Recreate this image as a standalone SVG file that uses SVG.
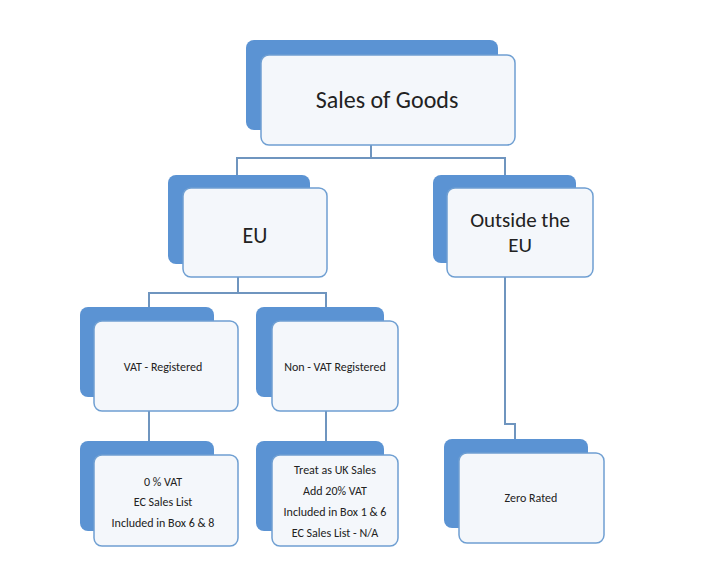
<svg xmlns="http://www.w3.org/2000/svg" width="720" height="567" viewBox="0 0 720 567">
<style>
.b{fill:#5b93d3;stroke:none}
.f{fill:#f4f7fb;stroke:#6f9fd2;stroke-width:1.5}
.c{fill:none;stroke:#6f95bf;stroke-width:2}
text{font-family:Calibri,"Liberation Sans","DejaVu Sans",sans-serif;fill:#222;text-anchor:middle}
.s{font-size:12px}
</style>
<rect width="720" height="567" fill="#fff"/>
<g id="connectors">
<path class="c" d="M371 145V158M237 175V158H505V175"/>
<path class="c" d="M238 277V293M149 307V293H326V307"/>
<path class="c" d="M149 411V441M326 411V441"/>
<path class="c" d="M505 277V424H515V439"/>
</g>
<g id="n-sales"><rect class="b" x="246" y="40" width="252" height="90" rx="8"/><rect class="f" x="261" y="55" width="254" height="90" rx="8"/><text x="387" y="108" font-size="24">Sales of Goods</text></g>
<g id="n-eu"><rect class="b" x="168" y="175" width="142" height="89" rx="8"/><rect class="f" x="183" y="188" width="144" height="89" rx="8"/><text x="255" y="243" font-size="22">EU</text></g>
<g id="n-out"><rect class="b" x="433" y="175" width="143" height="88" rx="8"/><rect class="f" x="447" y="188" width="146" height="89" rx="8"/><text x="520" y="227" font-size="21">Outside the</text><text x="520" y="252" font-size="21">EU</text></g>
<g id="n-vat"><rect class="b" x="80" y="307" width="134" height="90" rx="8"/><rect class="f" x="94" y="321" width="144" height="90" rx="8"/><text class="s" x="163" y="371">VAT - Registered</text></g>
<g id="n-nonvat"><rect class="b" x="256" y="307" width="128" height="90" rx="8"/><rect class="f" x="272" y="321" width="126" height="90" rx="8"/><text class="s" x="335" y="371">Non - VAT Registered</text></g>
<g id="n-zero-vat"><rect class="b" x="80" y="441" width="134" height="90" rx="8"/><rect class="f" x="94" y="455" width="144" height="91" rx="8"/><text class="s" x="163" y="486">0 % VAT</text><text class="s" x="163" y="506">EC Sales List</text><text class="s" x="163" y="527">Included in Box 6 &amp; 8</text></g>
<g id="n-uk"><rect class="b" x="256" y="441" width="128" height="90" rx="8"/><rect class="f" x="272" y="455" width="126" height="91" rx="8"/><text class="s" x="335" y="474">Treat as UK Sales</text><text class="s" x="335" y="495">Add 20% VAT</text><text class="s" x="335" y="516">Included in Box 1 &amp; 6</text><text class="s" x="335" y="537">EC Sales List - N/A</text></g>
<g id="n-zero"><rect class="b" x="444" y="439" width="144" height="89" rx="8"/><rect class="f" x="459" y="453" width="145" height="90" rx="8"/><text class="s" x="531" y="502">Zero Rated</text></g>
</svg>
